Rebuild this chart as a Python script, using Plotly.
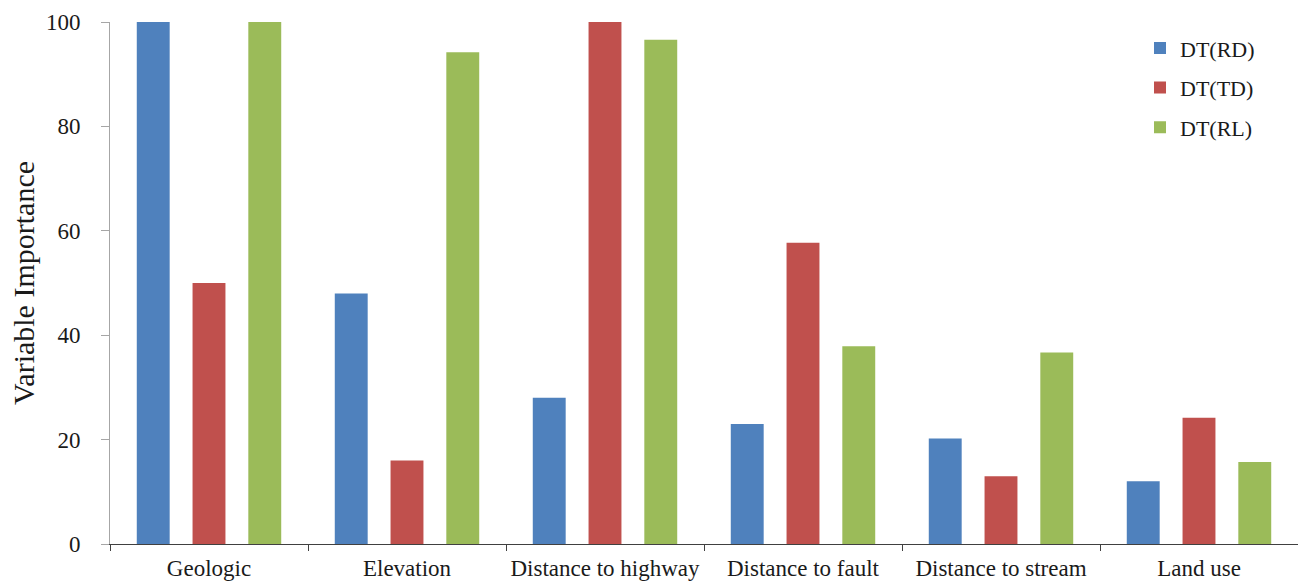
import plotly.graph_objects as go

# Variable importance for three decision-tree models
categories = ["Geologic", "Elevation", "Distance to highway",
              "Distance to fault", "Distance to stream", "Land use"]
dt_rd = [100, 48, 28, 23, 20.2, 12]
dt_td = [50, 16, 100, 57.7, 13, 24.2]
dt_rl = [100, 94.2, 96.6, 37.9, 36.7, 15.7]

series_names = ["DT(RD)", "DT(TD)", "DT(RL)"]
series_values = [dt_rd, dt_td, dt_rl]
series_colors = ["#4F81BD", "#C0504D", "#9BBB59"]

font_family = "Liberation Serif, Times New Roman, serif"

fig = go.Figure()
for name, vals, color in zip(series_names, series_values, series_colors):
    fig.add_trace(go.Bar(
        x=categories, y=vals, name=name, legendgroup=name,
        marker=dict(color=color, line=dict(width=0)),
    ))

plot_left, plot_width = 110, 1188

fig.update_layout(
    width=1298, height=585,
    margin=dict(l=plot_left, r=0, t=22, b=41),
    paper_bgcolor="white", plot_bgcolor="white",
    barmode="group", bargap=0.155, bargroupgap=0.41,
    font=dict(family=font_family, size=22, color="#1a1a1a"),
    showlegend=True,
    legend=dict(
        x=(1140 - plot_left) / plot_width, y=0.99,
        xanchor="left", yanchor="top",
        font=dict(size=22), tracegroupgap=8,
        bgcolor="rgba(0,0,0,0)", itemwidth=30,
    ),
)

fig.update_xaxes(
    showline=True, linecolor="#404040", linewidth=1,
    ticks="outside", tickson="boundaries", ticklen=6, tickcolor="#404040",
    showgrid=False, tickfont=dict(size=23), ticklabelstandoff=3,
    tickangle=0, automargin=False,
)
fig.update_yaxes(
    range=[0, 100], tickvals=[0, 20, 40, 60, 80, 100],
    showline=True, linecolor="#A6A6A6", linewidth=1,
    ticks="outside", ticklen=8, tickcolor="#A6A6A6",
    showgrid=False, zeroline=False, tickfont=dict(size=23),
    ticklabelstandoff=16, automargin=False,
    title=dict(text="Variable Importance", font=dict(size=30), standoff=2),
)

fig.write_html("out.html")
